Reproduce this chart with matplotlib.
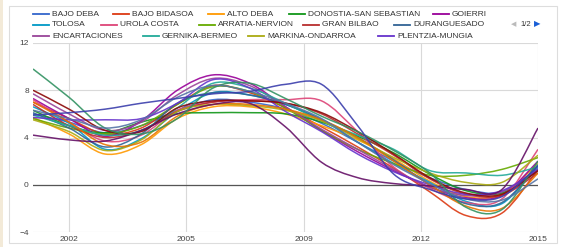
import matplotlib.pyplot as plt
import numpy as np
from matplotlib.path import Path
from matplotlib.patches import PathPatch, Rectangle
from matplotlib.lines import Line2D

plt.rcParams['font.family'] = ['Liberation Sans', 'DejaVu Sans']

years = list(range(2001, 2016))

# series shown on legend page 1, then the six of page 2
names = ["BAJO DEBA", "BAJO BIDASOA", "ALTO DEBA", "DONOSTIA-SAN SEBASTIAN", "GOIERRI",
         "TOLOSA", "UROLA COSTA", "ARRATIA-NERVION", "GRAN BILBAO", "DURANGUESADO",
         "ENCARTACIONES", "GERNIKA-BERMEO", "MARKINA-ONDARROA", "PLENTZIA-MUNGIA",
         "", "", "", "", "", ""]
colors = ["#3366cc", "#dc3912", "#ff9900", "#109618", "#990099", "#0099c6", "#dd4477",
          "#66aa00", "#b82e2e", "#316395", "#994499", "#22aa99", "#aaaa11", "#6633cc",
          "#e67300", "#8b0707", "#651067", "#329262", "#5574a6", "#3b3eac"]

values = [
    [6.0, 5.3, 4.4, 5.0, 6.3, 7.2, 7.0, 6.4, 5.2, 3.6, 2.0, 0.6, -0.4, -0.6, 1.4],
    [7.0, 5.6, 4.3, 4.8, 6.8, 8.4, 7.8, 6.5, 4.9, 3.2, 1.4, -0.6, -2.6, -2.4, 1.3],
    [5.7, 4.3, 2.6, 3.4, 5.6, 6.6, 6.6, 6.0, 5.0, 3.8, 2.2, 0.3, -1.0, -0.8, 1.8],
    [6.3, 5.0, 4.4, 5.3, 6.0, 6.1, 6.1, 6.0, 5.3, 4.1, 2.7, 0.9, -0.5, -0.7, 1.2],
    [7.3, 5.6, 4.1, 5.4, 8.0, 9.3, 8.6, 6.6, 4.6, 2.8, 1.2, -0.2, -1.1, -0.9, 2.0],
    [6.6, 5.2, 3.0, 3.9, 6.2, 7.8, 7.6, 6.8, 5.5, 3.6, 1.8, 0.2, -1.4, -1.6, 1.7],
    [7.2, 5.3, 3.7, 4.2, 6.3, 7.0, 7.2, 7.2, 7.1, 4.5, 1.5, -0.3, -1.5, -1.2, 3.0],
    [5.6, 4.8, 4.3, 5.0, 6.8, 8.3, 7.9, 6.5, 4.6, 3.0, 1.8, 0.8, 0.8, 1.3, 2.3],
    [6.8, 5.0, 4.0, 4.6, 6.2, 7.0, 7.1, 6.9, 6.0, 4.3, 2.5, 0.5, -0.8, -0.9, 1.0],
    [6.1, 4.8, 3.2, 4.3, 6.9, 7.8, 7.6, 6.8, 5.5, 4.0, 2.1, 0.0, -1.6, -1.5, 1.6],
    [7.7, 6.0, 4.6, 5.3, 7.6, 9.0, 8.4, 6.6, 4.7, 3.0, 1.3, -0.2, -0.9, -0.6, 1.2],
    [5.9, 5.0, 4.2, 4.6, 6.5, 8.6, 8.2, 6.9, 5.4, 4.2, 3.0, 1.2, 1.0, 0.8, 1.5],
    [5.5, 4.5, 2.9, 3.8, 6.2, 6.8, 6.7, 6.3, 5.4, 3.9, 2.3, 1.0, 0.2, 0.2, 2.5],
    [5.7, 5.5, 5.5, 5.6, 6.9, 8.9, 8.2, 6.2, 4.5, 2.6, 1.1, 0.0, -0.8, -0.5, 1.3],
    [7.0, 5.3, 3.4, 3.6, 5.8, 6.8, 6.8, 6.4, 5.5, 4.0, 2.0, 0.0, -1.8, -2.0, 1.0],
    [8.0, 6.4, 4.6, 4.5, 6.5, 7.1, 7.1, 6.9, 6.1, 4.5, 2.6, 0.6, -0.7, -0.8, 1.2],
    [4.2, 3.8, 3.7, 4.6, 6.0, 6.8, 6.9, 4.9, 1.9, 0.6, 0.1, -0.1, -0.4, -0.4, 4.8],
    [9.8, 7.4, 4.8, 4.3, 5.6, 8.2, 8.6, 7.3, 5.8, 4.5, 2.9, 1.0, -1.9, -2.1, 2.0],
    [6.3, 5.6, 4.8, 5.5, 7.4, 8.4, 7.9, 6.9, 5.6, 3.6, 1.7, 0.1, -1.2, -1.3, 0.5],
    [5.9, 6.1, 6.4, 6.9, 7.3, 7.7, 7.9, 8.5, 8.5, 5.0, 0.9, -0.4, -1.2, -1.0, 1.6],
]

xticks = [2002, 2005.25, 2008.5, 2011.75, 2015]
xlabels = ["2002", "2005", "2009", "2012", "2015"]
yticks = [-4, 0, 4, 8, 12]

W, H = 566, 247


def fx(px):
    return px / W


def fy(py):
    return 1 - py / H


def smooth_path(xs, ys):
    # cubic bezier through the points, like the "function" curve of the source chart
    pts = np.column_stack([xs, ys]).astype(float)
    n = len(pts)
    verts = [pts[0]]
    codes = [Path.MOVETO]
    for i in range(n - 1):
        p0 = pts[max(i - 1, 0)]
        p1 = pts[i]
        p2 = pts[i + 1]
        p3 = pts[min(i + 2, n - 1)]
        c1 = p1 + (p2 - p0) / 6
        c2 = p2 - (p3 - p1) / 6
        verts += [c1, c2, p2]
        codes += [Path.CURVE4] * 3
    return Path(verts, codes)


fig = plt.figure(figsize=(W / 100, H / 100), dpi=100)
fig.patch.set_facecolor("white")
# page background strip and chart frame
fig.add_artist(Rectangle((0, 0), fx(3), 1, transform=fig.transFigure,
                         facecolor="#f3ead8", edgecolor="none"))
fig.add_artist(Rectangle((fx(9), fy(243)), fx(548), fy(6) - fy(243), transform=fig.transFigure,
                         facecolor="none", edgecolor="#dddddd", lw=0.8))

ax = fig.add_axes([fx(33), fy(232), fx(505), fy(43) - fy(232)])
ax.set_xlim(2001, 2015)
ax.set_ylim(-4, 12)
for s in ax.spines.values():
    s.set_visible(False)
ax.set_xticks(xticks)
ax.set_xticklabels(xlabels)
ax.set_yticks(yticks)
ax.tick_params(length=0, labelsize=6, colors="#444444", pad=3)
ax.grid(True, color="#d9d9d9", lw=0.8)
ax.set_axisbelow(True)
ax.axhline(0, color="#555555", lw=0.9, zorder=1)

for i, vals in enumerate(values):
    patch = PathPatch(smooth_path(years, vals), facecolor="none",
                      edgecolor=colors[i], lw=1.1, alpha=0.9, zorder=2 + i * 0.01)
    ax.add_patch(patch)

# legend, page 1 of 2
legend_pos = [
    (33, 14), (113, 14), (208, 14), (289, 14), (433, 14),
    (33, 25), (101, 25), (199, 25), (303, 25), (394, 25),
    (33, 36), (143, 36), (248, 36), (378, 36),
]
for i, (x0, y0) in enumerate(legend_pos):
    fig.add_artist(Line2D([fx(x0), fx(x0 + 16)], [fy(y0), fy(y0)], transform=fig.transFigure,
                          color=colors[i], lw=1.3))
    fig.text(fx(x0 + 19), fy(y0), names[i], fontsize=6, color="#333333", va="center", ha="left")

fig.text(fx(511), fy(25), "\u25c0", fontsize=5, color="#bbbbbb", va="center", ha="left")
fig.text(fx(520), fy(25), "1/2", fontsize=5.5, color="#333333", va="center", ha="left")
fig.text(fx(534), fy(25), "\u25b6", fontsize=6, color="#1a5fd6", va="center", ha="left")

fig.savefig("out.png", dpi=100)
